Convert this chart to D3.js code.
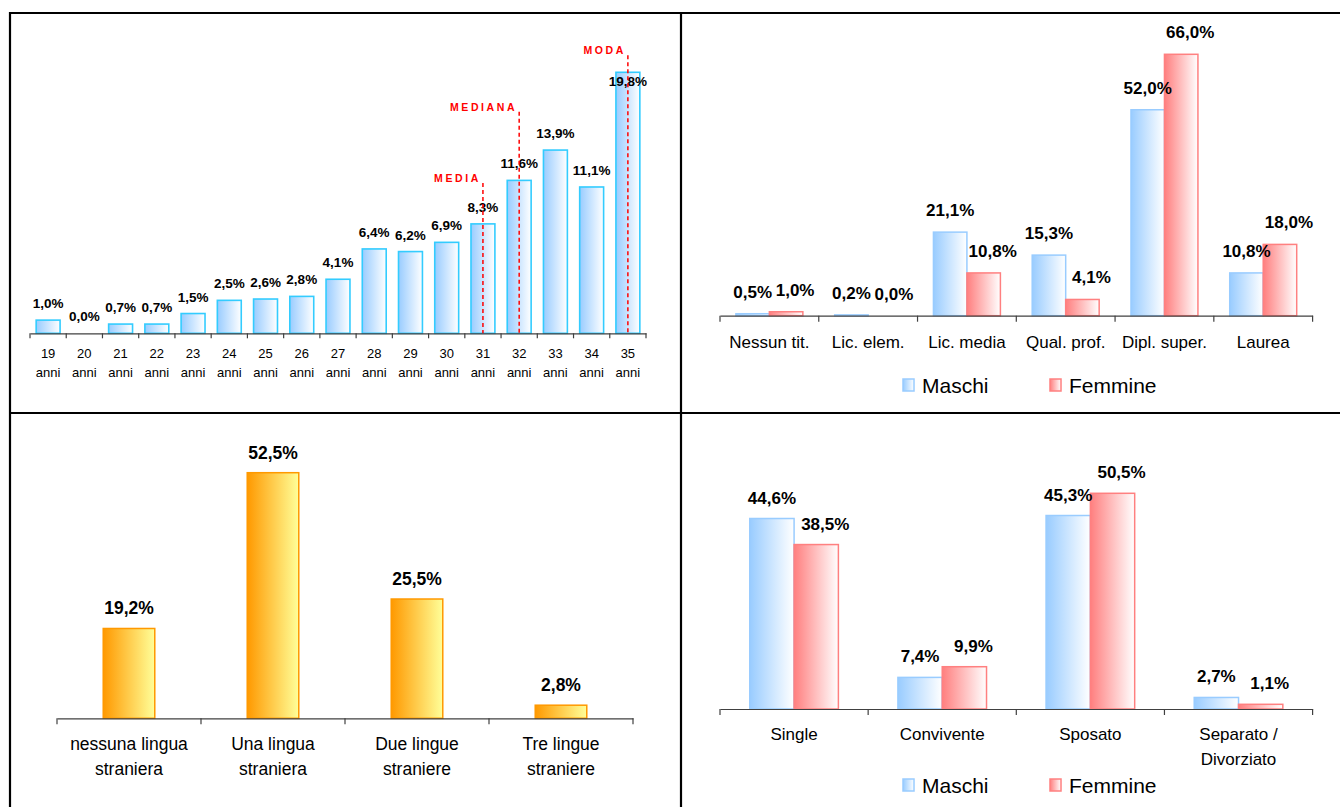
<!DOCTYPE html>
<html><head><meta charset="utf-8">
<script src="https://cdn.jsdelivr.net/npm/d3@7"></script>
<style>
body{margin:0;background:#fff}
svg{display:block}
text{font-family:"Liberation Sans",Arial,Helvetica,sans-serif;fill:#000}
</style>
</head><body>
<svg id="c" width="1340" height="807"></svg>
<script>
// ---------- DATA ----------
const ageCategories = ["19","20","21","22","23","24","25","26","27","28","29","30","31","32","33","34","35"];
const ageValues = [1.0,0.0,0.7,0.7,1.5,2.5,2.6,2.8,4.1,6.4,6.2,6.9,8.3,11.6,13.9,11.1,19.8];
const ageUnit = "anni";
const statNames = ["MEDIA","MEDIANA","MODA"];
const statAges = ["31","32","35"];
const statLineTops = [11.4,16.8,21.1];

const seriesNames = ["Maschi","Femmine"];

const eduCategories = ["Nessun tit.","Lic. elem.","Lic. media","Qual. prof.","Dipl. super.","Laurea"];
const eduMaschi = [0.5,0.2,21.1,15.3,52.0,10.8];
const eduFemmine = [1.0,0.0,10.8,4.1,66.0,18.0];

const langCategories = ["nessuna lingua\nstraniera","Una lingua\nstraniera","Due lingue\nstraniere","Tre lingue\nstraniere"];
const langValues = [19.2,52.5,25.5,2.8];

const civCategories = ["Single","Convivente","Sposato","Separato /\nDivorziato"];
const civMaschi = [44.6,7.4,45.3,2.7];
const civFemmine = [38.5,9.9,50.5,1.1];

// ---------- HELPERS ----------
const fmt = v => v.toFixed(1).replace(".", ",") + "%";
const svg = d3.select("#c");
const defs = svg.append("defs");
function grad(id, c0, c1) {
  const g = defs.append("linearGradient").attr("id", id).attr("x1", 0).attr("x2", 1).attr("y1", 0).attr("y2", 0);
  g.append("stop").attr("offset", "0%").attr("stop-color", c0);
  g.append("stop").attr("offset", "100%").attr("stop-color", c1);
}
grad("gBlue", "#99CCFF", "#FFFFFF");
grad("gRed", "#FF7F7F", "#FFFFFF");
grad("gOrange", "#FF9900", "#FFFF99");

const seriesStyle = {
  Maschi: {fill: "url(#gBlue)", stroke: "#99CCFF", dx: 0},
  Femmine: {fill: "url(#gRed)", stroke: "#FF8080", dx: 9}
};

function drawAxis(g, x, yBase, tickLen) {
  g.append("g").attr("transform", `translate(0,${yBase})`)
    .call(d3.axisBottom(x).tickSize(0).tickSizeOuter(0).tickFormat(""))
    .call(s => s.select(".domain").attr("stroke", "#404040").attr("stroke-width", 1.2));
  const step = x.step();
  const pad = x.paddingInner() * step / 2;
  const bounds = x.domain().map(c => x(c) - pad);
  bounds.push(x.range()[1]);
  g.selectAll(null).data(bounds).enter().append("line")
    .attr("x1", d => d).attr("x2", d => d)
    .attr("y1", yBase).attr("y2", yBase + tickLen)
    .attr("stroke", "#404040").attr("stroke-width", 1.2);
}
function drawCatLabels(g, x, cats, y0, lh, size) {
  cats.forEach(c => {
    const t = g.append("text").attr("text-anchor", "middle").attr("font-size", size)
      .attr("x", x(c) + x.bandwidth() / 2).attr("y", y0);
    c.split("\n").forEach((line, i) => {
      t.append("tspan").attr("x", x(c) + x.bandwidth() / 2).attr("dy", i === 0 ? 0 : lh).text(line);
    });
  });
}
function drawLegend(g, yTop) {
  const xs = [903, 1050];
  seriesNames.forEach((s, i) => {
    g.append("rect").attr("x", xs[i]).attr("y", yTop).attr("width", 11).attr("height", 12)
      .attr("fill", seriesStyle[s].fill).attr("stroke", seriesStyle[s].stroke).attr("stroke-width", 1.5);
    g.append("text").attr("x", xs[i] + 19).attr("y", yTop + 13.5).attr("font-size", 21).text(s);
  });
}

// ---------- BORDERS ----------
const frame = svg.append("g").attr("stroke", "#000").attr("stroke-width", 2.2);
frame.append("line").attr("x1", 9).attr("x2", 1340).attr("y1", 13).attr("y2", 13);
frame.append("line").attr("x1", 10).attr("x2", 10).attr("y1", 12).attr("y2", 807);
frame.append("line").attr("x1", 681).attr("x2", 681).attr("y1", 12).attr("y2", 807);
frame.append("line").attr("x1", 9).attr("x2", 1340).attr("y1", 413).attr("y2", 413);

// ---------- PANEL 1: età ----------
{
  const g = svg.append("g");
  const x = d3.scaleBand().domain(ageCategories).range([30, 646]).paddingInner(0.34).paddingOuter(0.17);
  const y = d3.scaleLinear().domain([0, d3.max(ageValues)]).range([333.3, 72.3]);
  const data = ageCategories.map((c, i) => ({c, v: ageValues[i]}));
  g.selectAll(null).data(data.filter(d => d.v > 0)).enter().append("rect")
    .attr("x", d => x(d.c)).attr("y", d => y(d.v))
    .attr("width", x.bandwidth()).attr("height", d => y(0) - y(d.v))
    .attr("fill", "url(#gBlue)").attr("stroke", "#33CCFF").attr("stroke-width", 1.6);
  drawAxis(g, x, y(0), 5);
  const labelFloor = y(d3.max(ageValues)) + 13.5;
  g.selectAll(null).data(data).enter().append("text")
    .attr("text-anchor", "middle").attr("font-size", 13.5).attr("font-weight", "bold")
    .attr("x", d => x(d.c) + x.bandwidth() / 2)
    .attr("y", d => Math.max(y(d.v) - 12, labelFloor))
    .text(d => fmt(d.v));
  drawCatLabels(g, x, ageCategories.map(c => c), y(0) + 24.5, 0, 13);
  ageCategories.forEach(c => {
    g.append("text").attr("text-anchor", "middle").attr("font-size", 13)
      .attr("x", x(c) + x.bandwidth() / 2).attr("y", y(0) + 44).text(ageUnit);
  });
  statNames.forEach((n, i) => {
    const lx = x(statAges[i]) + x.bandwidth() / 2;
    g.append("line").attr("x1", lx).attr("x2", lx).attr("y1", y(statLineTops[i])).attr("y2", y(0))
      .attr("stroke", "#FF0000").attr("stroke-width", 1.5).attr("stroke-dasharray", "4,3");
    g.append("text").attr("text-anchor", "end").attr("x", lx - 2).attr("y", y(statLineTops[i]) - 1)
      .attr("font-size", 10.5).attr("font-weight", "bold").attr("letter-spacing", 2.6)
      .style("fill", "#FF0000").text(n);
  });
}

// ---------- grouped panel helper ----------
function groupedPanel(cats, mVals, fVals, xr, yr, yMax, outerPad, barStroke, labelSize, labelOff, catY, catLH, catSize, legendTop) {
  const g = svg.append("g");
  const x = d3.scaleBand().domain(cats).range(xr);
  const xs = d3.scaleBand().domain(seriesNames).range([0, x.bandwidth()]).paddingInner(0).paddingOuter(outerPad);
  const y = d3.scaleLinear().domain([0, yMax]).range(yr);
  const data = [];
  cats.forEach((c, i) => {
    data.push({c, s: "Maschi", v: mVals[i]});
    data.push({c, s: "Femmine", v: fVals[i]});
  });
  g.selectAll(null).data(data.filter(d => d.v > 0)).enter().append("rect")
    .attr("x", d => x(d.c) + xs(d.s)).attr("y", d => y(d.v))
    .attr("width", xs.bandwidth()).attr("height", d => y(0) - y(d.v))
    .attr("fill", d => seriesStyle[d.s].fill).attr("stroke", d => seriesStyle[d.s].stroke).attr("stroke-width", barStroke);
  drawAxis(g, x, y(0), 6);
  g.selectAll(null).data(data).enter().append("text")
    .attr("text-anchor", "middle").attr("font-size", labelSize).attr("font-weight", "bold")
    .attr("x", d => x(d.c) + xs(d.s) + xs.bandwidth() / 2 + seriesStyle[d.s].dx)
    .attr("y", d => y(d.v) - labelOff)
    .text(d => fmt(d.v));
  drawCatLabels(g, x, cats, catY, catLH, catSize);
  drawLegend(g, legendTop);
}

// ---------- PANEL 2: titolo di studio ----------
groupedPanel(eduCategories, eduMaschi, eduFemmine, [720, 1312.6], [315.7, 54.3], d3.max(eduFemmine),
  0.475, 1.5, 17, 16, 348, 0, 17, 379);

// ---------- PANEL 3: lingue ----------
{
  const g = svg.append("g");
  const x = d3.scaleBand().domain(langCategories).range([57, 633]).paddingInner(0.642).paddingOuter(0.321);
  const y = d3.scaleLinear().domain([0, d3.max(langValues)]).range([718.3, 472.7]);
  const data = langCategories.map((c, i) => ({c, v: langValues[i]}));
  g.selectAll(null).data(data).enter().append("rect")
    .attr("x", d => x(d.c)).attr("y", d => y(d.v))
    .attr("width", x.bandwidth()).attr("height", d => y(0) - y(d.v))
    .attr("fill", "url(#gOrange)").attr("stroke", "#FF9900").attr("stroke-width", 1.5);
  drawAxis(g, x, y(0), 6);
  g.selectAll(null).data(data).enter().append("text")
    .attr("text-anchor", "middle").attr("font-size", 17.5).attr("font-weight", "bold")
    .attr("x", d => x(d.c) + x.bandwidth() / 2).attr("y", d => y(d.v) - 14)
    .text(d => fmt(d.v));
  drawCatLabels(g, x, langCategories, 749.5, 25, 17.5);
}

// ---------- PANEL 4: stato civile ----------
groupedPanel(civCategories, civMaschi, civFemmine, [720, 1312.6], [709, 493.3], d3.max(civFemmine),
  0.672, 1.5, 17, 15, 739.5, 25, 17, 779);
</script>
</body></html>
